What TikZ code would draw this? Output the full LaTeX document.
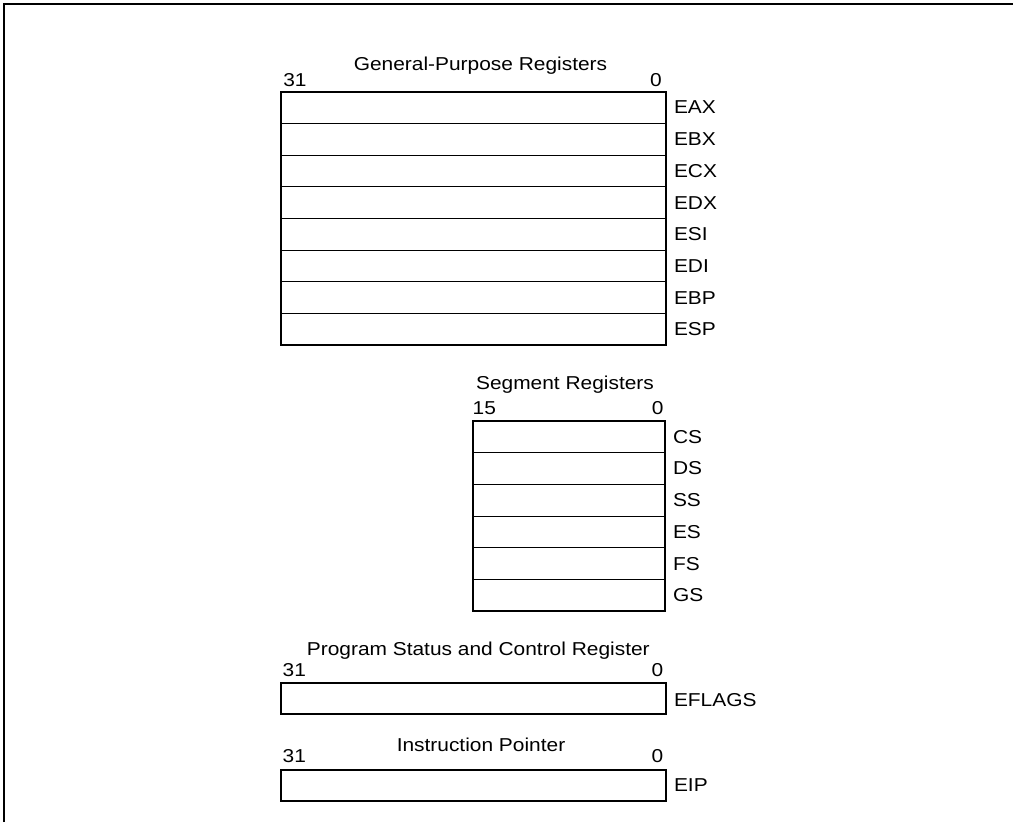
\documentclass[tikz,border=0pt]{standalone}
\usepackage{fontspec}
\setmainfont{Liberation Sans}[FakeStretch=1.12]
\begin{document}
\begin{tikzpicture}[x=0.75pt,y=-0.75pt,
  txt/.style={inner sep=0pt, outer sep=0pt, font=\fontsize{14}{16}\selectfont},
  reg/.style={draw, line width=0.75pt, minimum height=23.775pt, inner sep=0pt, outer sep=0pt, anchor=north west},
  gpr/.style={reg, minimum width=288.4pt},
  seg/.style={reg, minimum width=144.2pt},
  outerbox/.style={line width=1.5pt},
  lbl/.style={txt, anchor=west},
  ttl/.style={txt, anchor=base},
  bitl/.style={txt, anchor=base west},
  bitr/.style={txt, anchor=base east},
  frameline/.style={line width=1.9pt}]
\useasboundingbox (0,0) rectangle (1013,822);
\coordinate (fbl) at (4,822);
\coordinate (ftl) at (4,4);
\coordinate (ftr) at (1013,4);
\draw[frameline] (fbl) -- (ftl) -- (ftr);

% General-purpose registers
\node[ttl] (gprtitle) at (480.5,70.7) {General-Purpose Registers};
\node[bitl] (gprhi) at (283.3,86) {31};
\node[bitr] (gprlo) at (661.7,86) {0};
\foreach \n [count=\i from 0] in {EAX,EBX,ECX,EDX,ESI,EDI,EBP,ESP} {
  \node[gpr] (g\n) at (281,{91.7+\i*31.7}) {};
  \node[lbl] (l\n) at (674,{91.7+\i*31.7+15.85}) {\n};
}
\draw[outerbox] (gEAX.north west) rectangle (gESP.south east);

% Segment registers
\node[ttl] (segtitle) at (565,389.3) {Segment Registers};
\node[bitl] (seghi) at (472.7,414.3) {15};
\node[bitr] (seglo) at (663.5,414.3) {0};
\foreach \n [count=\i from 0] in {CS,DS,SS,ES,FS,GS} {
  \node[seg] (s\n) at (472.7,{421+\i*31.7}) {};
  \node[lbl] (l\n) at (673,{421+\i*31.7+15.85}) {\n};
}
\draw[outerbox] (sCS.north west) rectangle (sGS.south east);

% EFLAGS
\node[ttl] (flagtitle) at (478.3,655.7) {Program Status and Control Register};
\node[bitl] (flaghi) at (282.7,676) {31};
\node[bitr] (flaglo) at (663.3,676) {0};
\node[gpr, line width=1.5pt, minimum height=23.5pt] (eflags) at (281,682.7) {};
\node[lbl] (leflags) at (674,700) {EFLAGS};

% EIP
\node[ttl] (iptitle) at (481,751.7) {Instruction Pointer};
\node[bitl] (iphi) at (282.7,762.3) {31};
\node[bitr] (iplo) at (663.3,762.3) {0};
\node[gpr, line width=1.5pt, minimum height=23pt] (eip) at (281,770) {};
\node[lbl] (leip) at (674,785.3) {EIP};
\end{tikzpicture}
\end{document}
